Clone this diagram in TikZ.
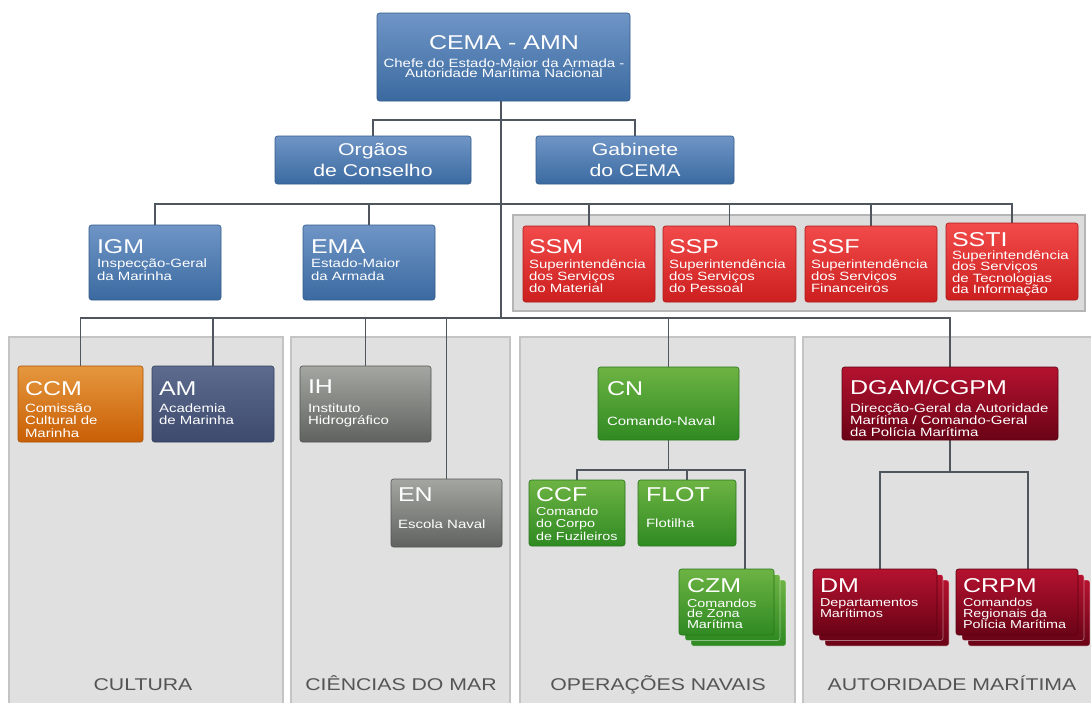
\documentclass[tikz,border=0pt]{standalone}
\usepackage{fontspec}
\setmainfont{Liberation Sans}
\newfontfamily\wf[FakeStretch=1.25]{Liberation Sans}
\usetikzlibrary{calc}
\definecolor{blueT}{HTML}{6F95C6}
\definecolor{blueB}{HTML}{3B6AA0}
\definecolor{redT}{HTML}{F24A4A}
\definecolor{redB}{HTML}{CC1F1F}
\definecolor{dredT}{HTML}{B5122F}
\definecolor{dredB}{HTML}{6A0316}
\definecolor{orT}{HTML}{E5973E}
\definecolor{orB}{HTML}{C95F05}
\definecolor{navT}{HTML}{5D6B8F}
\definecolor{navB}{HTML}{3D4A6D}
\definecolor{gryT}{HTML}{A4A7A1}
\definecolor{gryB}{HTML}{5F625E}
\definecolor{grnT}{HTML}{6DB343}
\definecolor{grnB}{HTML}{2F8A22}
\definecolor{panelc}{HTML}{E0E0E0}
\definecolor{panelb}{HTML}{C4C4C4}
\definecolor{grpc}{HTML}{DCDCDC}
\definecolor{grpb}{HTML}{B5B5B5}
\definecolor{labelc}{HTML}{555555}
\definecolor{connc}{HTML}{50565E}
\pgfdeclarelayer{pan}
\pgfdeclarelayer{ln}
\pgfsetlayers{pan,ln,main}
\newcommand\sfz[2]{\wf\fontsize{#1}{#2}\selectfont}
\newcommand\ttlf{\sfz{20}{22}}
\newcommand\setoff[3]{\def\otx{#1}\def\oty{#2}\def\osy{#3}}
\newcommand\obox[8]{%
  \node[#2, anchor=north west, minimum width=#5pt, minimum height=#6pt] (#1) at (#3,#4) {};
  \node[txt, anchor=base west] (#1-t) at ($(#1.north west)+(\otx,\oty)$) {\ttlf #7};
  \node[txt, anchor=base west] (#1-s) at ($(#1.north west)+(\otx,\osy)$) {\vtop{#8}};
}
\newcommand\stk[5]{%
  \path[#1, draw=white, draw opacity=0.45] ($(#2,#3)+(12,11)$) rectangle ++(#4,#5);
  \path[#1, draw=white, draw opacity=0.45] ($(#2,#3)+(6,5.5)$) rectangle ++(#4,#5);
}
\tikzset{
  conn/.style={draw=connc, line width=1.6pt},
  txt/.style={inner sep=0pt, outer sep=0pt, text=white},
  panel/.style={fill=panelc, draw=panelb, line width=1.5pt},
  grp/.style={fill=grpc, draw=grpb, line width=1.5pt},
  ob/.style 2 args={rounded corners=2.5pt, top color=#1, bottom color=#2, draw=#2!85!black, line width=0.6pt, inner sep=0pt, outer sep=0pt},
  bluebox/.style={ob={blueT}{blueB}},
  redbox/.style={ob={redT}{redB}},
  dredbox/.style={ob={dredT}{dredB}},
  orbox/.style={ob={orT}{orB}},
  navbox/.style={ob={navT}{navB}},
  grybox/.style={ob={gryT}{gryB}},
  grnbox/.style={ob={grnT}{grnB}},
  lbl/.style={inner sep=0pt, anchor=base, text=labelc, font={\sfz{17}{17}}}
}
\begin{document}
\begin{tikzpicture}[x=1pt,y=-1pt]
\useasboundingbox (0,0) rectangle (1091,702);
\begin{pgfonlayer}{pan}
  \path[fill=white] (0,0) rectangle (1091,702);
  \path[panel] (9,337) rectangle (283,708);
  \path[panel] (291,337) rectangle (510,708);
  \path[panel] (520,337) rectangle (795,708);
  \path[panel] (803,337) rectangle (1098,708);
  \path[grp] (513,215) rectangle (1085,311);
\end{pgfonlayer}

% top
\node[bluebox, anchor=north west, minimum width=253pt, minimum height=88pt] (cema) at (377,13) {};
\node[txt, anchor=base] (cema-t) at (504,49) {\ttlf CEMA - AMN};
\node[txt, anchor=north, align=center, font={\sfz{12}{10}}] (cema-s) at (504,59) {Chefe do Estado-Maior da Armada -\\Autoridade Marítima Nacional};

\node[bluebox, anchor=north west, minimum width=196pt, minimum height=48pt] (org) at (275,136) {};
\node[txt, align=center, font={\sfz{17}{21}}] (org-t) at (org.center) {Orgãos\\de Conselho};
\node[bluebox, anchor=north west, minimum width=198pt, minimum height=48pt] (gab) at (536,136) {};
\node[txt, align=center, font={\sfz{17}{21}}] (gab-t) at (gab.center) {Gabinete\\do CEMA};

% second row
\setoff{8}{28}{42}
\obox{igm}{bluebox}{89}{225}{132}{75}{IGM}{\sfz{12}{13}\hbox{Inspecção-Geral}\hbox{da Marinha}}
\obox{ema}{bluebox}{303}{225}{132}{75}{EMA}{\sfz{12}{13}\hbox{Estado-Maior}\hbox{da Armada}}
\setoff{6}{27}{42}
\obox{ssm}{redbox}{523}{226}{132}{76}{SSM}{\sfz{12}{12}\hbox{Superintendência}\hbox{dos Serviços}\hbox{do Material}}
\obox{ssp}{redbox}{663}{226}{133}{76}{SSP}{\sfz{12}{12}\hbox{Superintendência}\hbox{dos Serviços}\hbox{do Pessoal}}
\obox{ssf}{redbox}{805}{226}{132}{76}{SSF}{\sfz{12}{12}\hbox{Superintendência}\hbox{dos Serviços}\hbox{Financeiros}}
\setoff{6}{23}{36}
\obox{ssti}{redbox}{946}{223}{132}{77}{SSTI}{\sfz{12}{11.5}\hbox{Superintendência}\hbox{dos Serviços}\hbox{de Tecnologias}\hbox{da Informação}}

% Cultura
\setoff{7}{29}{46}
\obox{ccm}{orbox}{18}{366}{125}{76}{CCM}{\sfz{12}{12.5}\hbox{Comissão}\hbox{Cultural de}\hbox{Marinha}}
\obox{am}{navbox}{152}{366}{122}{76}{AM}{\sfz{12}{12.5}\hbox{Academia}\hbox{de Marinha}}
% Ciencias do mar
\setoff{8}{27}{46}
\obox{ih}{grybox}{300}{366}{131}{76}{IH}{\sfz{12}{12.5}\hbox{Instituto}\hbox{Hidrográfico}}
\setoff{7}{22}{49}
\obox{en}{grybox}{391}{479}{111}{68}{EN}{\sfz{12}{12}\hbox{Escola Naval}}
% Operacoes navais
\setoff{9}{28}{58}
\obox{cn}{grnbox}{598}{367}{141}{73}{CN}{\sfz{12}{12}\hbox{Comando-Naval}}
\setoff{7}{21}{35}
\obox{ccf}{grnbox}{529}{480}{96}{66}{CCF}{\sfz{11.5}{12.5}\hbox{Comando}\hbox{do Corpo}\hbox{de Fuzileiros}}
\setoff{8}{21}{47}
\obox{flot}{grnbox}{638}{480}{98}{66}{FLOT}{\sfz{12}{12}\hbox{Flotilha}}
\stk{grnbox}{679}{569}{95}{66}
\setoff{8}{23}{38}
\obox{czm}{grnbox}{679}{569}{95}{66}{CZM}{\sfz{11.5}{10.5}\hbox{Comandos}\hbox{de Zona}\hbox{Marítima}}
% Autoridade maritima
\setoff{8}{27}{45}
\obox{dgam}{dredbox}{842}{367}{216}{73}{DGAM/CGPM}{\sfz{12}{12}\hbox{Direcção-Geral da Autoridade}\hbox{Marítima / Comando-Geral}\hbox{da Polícia Marítima}}
\stk{dredbox}{813}{569}{124}{66}
\stk{dredbox}{956}{569}{122}{66}
\setoff{7}{23}{37}
\obox{dm}{dredbox}{813}{569}{124}{66}{DM}{\sfz{11.5}{11}\hbox{Departamentos}\hbox{Marítimos}}
\obox{crpm}{dredbox}{956}{569}{122}{66}{CRPM}{\sfz{11.5}{11}\hbox{Comandos}\hbox{Regionais da}\hbox{Polícia Marítima}}

% labels
\node[lbl] (l1) at (143,690) {CULTURA};
\node[lbl] (l2) at (401,690) {CIÊNCIAS DO MAR};
\node[lbl] (l3) at (658,690) {OPERAÇÕES NAVAIS};
\node[lbl] (l4) at (952,690) {AUTORIDADE MARÍTIMA};

\begin{pgfonlayer}{ln}
  \draw[conn] (org.north) -- ++(0,-16) -| (gab.north);
  \coordinate (lb) at (501,318);
  \draw[conn] (cema.south -| lb) -- (lb);
  \draw[conn] (igm.north) -- ++(0,-21) -| (ssti.north);
  \draw[conn] (ema.north) -- ++(0,-21);
  \draw[conn] (ssm.north) -- ++(0,-22);
  \draw[conn] (ssp.north) -- ++(0,-22);
  \draw[conn] (ssf.north) -- ++(0,-22);
  \draw[conn] (ccm.north) -- (ccm.north |- lb) -| (dgam.north);
  \draw[conn] (am.north) -- (am.north |- lb);
  \draw[conn] (ih.north) -- (ih.north |- lb);
  \draw[conn] (en.north) -- (en.north |- lb);
  \draw[conn] (cn.north) -- (cn.north |- lb);
  \coordinate (cnbus) at ($(cn.south)+(0,30)$);
  \draw[conn] (cn.south) -- (cnbus);
  \coordinate (czmx) at ($(czm.north west)+(66,0)$);
  \draw[conn] (ccf.north) -- (ccf.north |- cnbus) -- (czmx |- cnbus) -- (czmx);
  \draw[conn] (flot.north) -- (flot.north |- cnbus);
  \coordinate (dgbus) at ($(dgam.south)+(0,32)$);
  \draw[conn] (dgam.south) -- (dgbus);
  \coordinate (dmx) at ($(dm.north)+(5,0)$);
  \coordinate (crx) at ($(crpm.north)+(11,0)$);
  \draw[conn] (dmx) -- (dmx |- dgbus) -- (crx |- dgbus) -- (crx);
\end{pgfonlayer}
\end{tikzpicture}
\end{document}
